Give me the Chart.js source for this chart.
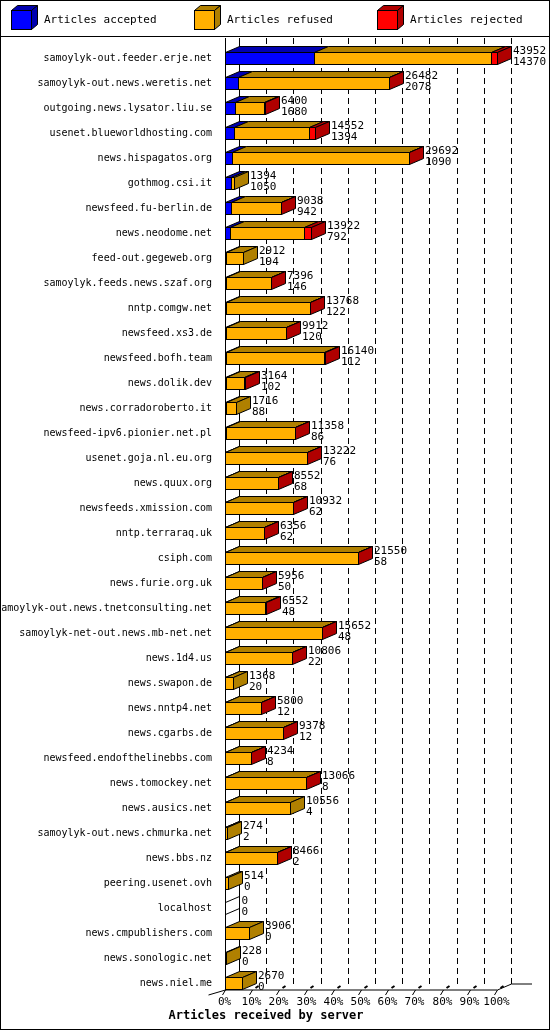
<!DOCTYPE html>
<html><head><meta charset="utf-8">
<script src="https://cdn.jsdelivr.net/npm/chart.js@4"></script>
<style>html,body{margin:0;padding:0;background:#fff}#w{width:550px;height:1030px;position:relative}</style>
</head><body><div id="w"><canvas id="c" width="550" height="1030"></canvas></div>
<script>
const servers = ["samoylyk-out.feeder.erje.net","samoylyk-out.news.weretis.net","outgoing.news.lysator.liu.se","usenet.blueworldhosting.com","news.hispagatos.org","gothmog.csi.it","newsfeed.fu-berlin.de","news.neodome.net","feed-out.gegeweb.org","samoylyk.feeds.news.szaf.org","nntp.comgw.net","newsfeed.xs3.de","newsfeed.bofh.team","news.dolik.dev","news.corradoroberto.it","newsfeed-ipv6.pionier.net.pl","usenet.goja.nl.eu.org","news.quux.org","newsfeeds.xmission.com","nntp.terraraq.uk","csiph.com","news.furie.org.uk","samoylyk-out.news.tnetconsulting.net","samoylyk-net-out.news.mb-net.net","news.1d4.us","news.swapon.de","news.nntp4.net","news.cgarbs.de","newsfeed.endofthelinebbs.com","news.tomockey.net","news.ausics.net","samoylyk-out.news.chmurka.net","news.bbs.nz","peering.usenet.ovh","localhost","news.cmpublishers.com","news.sonologic.net","news.niel.me"];
const offered = [43952,26482,6400,14552,29692,1394,9038,13922,2912,7396,13768,9912,16140,3164,1716,11358,13222,8552,10932,6356,21550,5956,6552,15652,10806,1368,5800,9378,4234,13066,10556,274,8466,514,0,3906,228,2670];
const accepted = [14370,2078,1680,1394,1090,1050,942,792,194,146,122,120,112,102,88,86,76,68,62,62,58,50,48,48,22,20,12,12,8,8,4,2,2,0,0,0,0,0];
const rejected = [900,30,20,1000,30,0,20,1100,0,20,20,20,200,20,0,20,20,20,20,20,20,20,20,20,20,0,20,20,20,20,0,0,20,0,0,0,0,0];
const refused = offered.map((o,i)=>Math.max(0,o-accepted[i]-rejected[i]));
const tickLabels = ["0%","10%","20%","30%","40%","50%","60%","70%","80%","90%","100%"];
const legendLabels = ["Articles accepted","Articles refused","Articles rejected"];
const xTitle = "Articles received by server";
const maxVal = Math.max(...offered);

const front = ["#0000ff","#ffb000","#ff0000"];
const dark = ["#0000b0","#b08000","#b00000"];
const DX=14, DY=6;
const MONO='"DejaVu Sans Mono", "Liberation Mono", monospace';

function box3d(ctx,x0,x1,yT,yB,fi,side,dx,dy){
  dx=dx??DX;dy=dy??DY;
  ctx.lineWidth=1;ctx.strokeStyle="#000";
  ctx.fillStyle=front[fi];ctx.fillRect(x0,yT,x1-x0,yB-yT);ctx.strokeRect(x0,yT,x1-x0,yB-yT);
  ctx.fillStyle=dark[fi];
  ctx.beginPath();ctx.moveTo(x0,yT);ctx.lineTo(x0+dx,yT-dy);ctx.lineTo(x1+dx,yT-dy);ctx.lineTo(x1,yT);ctx.closePath();ctx.fill();ctx.stroke();
  if(side){ctx.beginPath();ctx.moveTo(x1,yT);ctx.lineTo(x1+dx,yT-dy);ctx.lineTo(x1+dx,yB-dy);ctx.lineTo(x1,yB);ctx.closePath();ctx.fill();ctx.stroke();}
}

const plugin={id:'p3d',
 beforeDatasetsDraw(chart){
  const ctx=chart.ctx,ca=chart.chartArea,x=chart.scales.x;
  ctx.save();
  ctx.strokeStyle="#000";ctx.lineWidth=1;
  ctx.strokeRect(0.5,0.5,549,1029);
  ctx.beginPath();ctx.moveTo(0,36.5);ctx.lineTo(550,36.5);ctx.stroke();
  const lx=[11,194,377];
  ctx.font="11px "+MONO;ctx.textBaseline="middle";ctx.textAlign="left";
  for(let i=0;i<3;i++){box3d(ctx,lx[i]+0.5,lx[i]+20.5,10.5,29.5,i,true,6,5);ctx.fillStyle="#000";ctx.fillText(legendLabels[i],lx[i]+33,20);}
  const yb=ca.bottom-5.5, top=38;
  for(let k=0;k<=10;k++){
   const px=Math.round(x.getPixelForValue(maxVal*k/10))+DX+0.5;
   ctx.setLineDash(k==0?[]:[6,4]);
   ctx.beginPath();ctx.moveTo(px,top);ctx.lineTo(px,yb-DY);ctx.stroke();
  }
  ctx.setLineDash([]);
  const L=ca.left+0.5,R=Math.round(x.getPixelForValue(maxVal))+0.5;
  ctx.beginPath();ctx.moveTo(L,top);ctx.lineTo(L,yb);ctx.lineTo(R,yb);ctx.lineTo(R+DX,yb-DY);ctx.lineTo(532,yb-DY);ctx.stroke();
  ctx.beginPath();ctx.moveTo(L,yb);ctx.lineTo(L-17,yb+5);ctx.stroke();
  ctx.beginPath();ctx.moveTo(L+DX,yb-DY);ctx.lineTo(L,yb);ctx.stroke();
  ctx.font="11px "+MONO;ctx.textAlign="center";ctx.textBaseline="top";ctx.fillStyle="#000";
  for(let k=0;k<=10;k++){
   const px=Math.round(x.getPixelForValue(maxVal*k/10))+0.5;
   ctx.beginPath();ctx.moveTo(px,yb);ctx.lineTo(px-3,yb+5);ctx.stroke();
   if(k>0){ctx.beginPath();ctx.moveTo(px+3,yb-2);ctx.lineTo(px+6,yb-4);ctx.lineWidth=2;ctx.stroke();ctx.lineWidth=1;}
   ctx.fillText(tickLabels[k],px-1,yb+7);
  }
  ctx.font="bold 12px "+MONO;ctx.fillText(xTitle,266,yb+20);
  ctx.restore();
 },
 afterDatasetsDraw(chart){
  const ctx=chart.ctx;ctx.save();
  const metas=[0,1,2].map(d=>chart.getDatasetMeta(d));
  for(let i=0;i<servers.length;i++){
   const vals=[accepted[i],refused[i],rejected[i]];
   let last=-1;for(let d=0;d<3;d++) if(vals[d]>0) last=d;
   if(last<0) continue;
   for(let d=0;d<3;d++){
    if(vals[d]<=0) continue;
    const e=metas[d].data[i];
    const x0=Math.round(Math.min(e.base,e.x))+0.5,x1=Math.round(Math.max(e.base,e.x))+0.5;
    const yT=Math.round(e.y-6)+0.5,yB=yT+12;
    box3d(ctx,x0,x1,yT,yB,d,d===last);
   }
   const e=metas[last].data[i];
   ctx.fillStyle="#000";ctx.font="11px "+MONO;ctx.textAlign="left";ctx.textBaseline="alphabetic";
   const tx=Math.round(e.x)+DX+2;
   ctx.fillText(String(offered[i]),tx,e.y-4);ctx.fillText(String(accepted[i]),tx,e.y+7);
  }
  for(let i=0;i<servers.length;i++){
   if(offered[i]>0) continue;
   const e=metas[0].data[i];const x0=Math.round(e.base)+0.5,yT=Math.round(e.y-6)+0.5;
   ctx.strokeStyle="#000";ctx.beginPath();ctx.moveTo(x0,yT+12);ctx.lineTo(x0,yT);ctx.lineTo(x0+DX,yT-DY);ctx.lineTo(x0+DX,yT+12-DY);ctx.closePath();ctx.stroke();
   ctx.fillStyle="#000";ctx.font="11px "+MONO;ctx.textAlign="left";ctx.fillText("0",x0+DX+2,e.y-4);ctx.fillText("0",x0+DX+2,e.y+7);
  }
  ctx.restore();
 }};

new Chart(document.getElementById('c'),{
 type:'bar',
 data:{labels:servers,datasets:[
  {label:legendLabels[0],data:accepted,backgroundColor:'rgba(0,0,0,0)'},
  {label:legendLabels[1],data:refused,backgroundColor:'rgba(0,0,0,0)'},
  {label:legendLabels[2],data:rejected,backgroundColor:'rgba(0,0,0,0)'}]},
 options:{indexAxis:'y',responsive:false,animation:false,devicePixelRatio:1,
  layout:{padding:{top:45.5,bottom:34.5,right:53,left:0}},
  plugins:{legend:{display:false},tooltip:{enabled:false}},
  datasets:{bar:{barThickness:12,borderWidth:0}},
  scales:{
   x:{stacked:true,min:0,max:maxVal,display:false},
   y:{stacked:true,grid:{display:false},border:{display:false},
      afterFit(s){s.width=225;},
      ticks:{color:'#000',font:{family:'DejaVu Sans Mono',size:10},padding:5,autoSkip:false}}
  }}
 ,plugins:[plugin]});
</script></body></html>
